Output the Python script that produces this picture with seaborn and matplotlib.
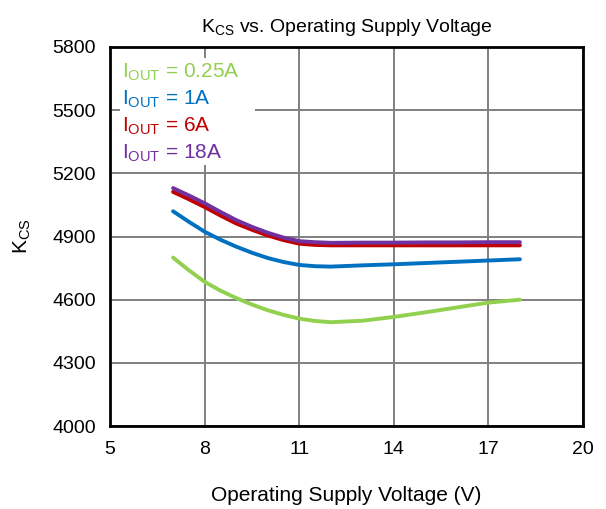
import matplotlib
matplotlib.use("Agg")
import matplotlib.pyplot as plt
import seaborn as sns
import pandas as pd

# values
voltage = [7, 7.5, 8, 8.5, 9, 9.5, 10, 10.5, 11, 11.5, 12, 13, 14, 15, 16, 17, 18]
kcs_025 = [4800, 4740, 4685, 4643, 4608, 4577, 4550, 4528, 4510, 4499, 4493,
           4500, 4518, 4540, 4563, 4586, 4600]
kcs_1 = [5020, 4970, 4923, 4885, 4852, 4823, 4798, 4779, 4765, 4759, 4757,
         4763, 4768, 4774, 4780, 4786, 4792]
kcs_6 = [5112, 5077, 5040, 5000, 4962, 4932, 4905, 4883, 4866, 4860, 4858,
         4858, 4858, 4858, 4858, 4858, 4858]
kcs_18 = [5130, 5095, 5058, 5017, 4978, 4946, 4918, 4895, 4878, 4873, 4870,
          4871, 4871, 4872, 4872, 4873, 4873]

labels = [r"I$_{\mathrm{OUT}}$ = 0.25A", r"I$_{\mathrm{OUT}}$ = 1A",
          r"I$_{\mathrm{OUT}}$ = 6A", r"I$_{\mathrm{OUT}}$ = 18A"]
colors = ["#92D050", "#0070C0", "#C00000", "#7030A0"]

frames = []
for lab, vals in zip(labels, [kcs_025, kcs_1, kcs_6, kcs_18]):
    frames.append(pd.DataFrame({"V": voltage, "K": vals, "series": lab}))
df = pd.concat(frames, ignore_index=True)

sns.set_theme(style="white")
plt.rcParams["font.family"] = ["Liberation Sans", "DejaVu Sans"]
plt.rcParams["mathtext.fontset"] = "custom"
plt.rcParams["mathtext.rm"] = "Liberation Sans"
plt.rcParams["mathtext.it"] = "Liberation Sans:italic"
for key in ["text.color", "axes.labelcolor", "xtick.color", "ytick.color"]:
    plt.rcParams[key] = "black"

fig = plt.figure(figsize=(6.06, 5.09), dpi=100)
ax = fig.add_axes([0.1815, 0.163, 0.7805, 0.7447])

sns.lineplot(data=df, x="V", y="K", hue="series", palette=colors,
             linewidth=2.8, ax=ax, legend=False)

ax.set_xlim(5, 20)
ax.set_ylim(4000, 5800)
ax.set_xticks([5, 8, 11, 14, 17, 20])
ax.set_yticks(range(4000, 5801, 300))
ax.grid(True, color="#808080", linewidth=1.4)
ax.set_axisbelow(True)
for s in ax.spines.values():
    s.set_color("black")
    s.set_linewidth(2)
ax.tick_params(labelsize=14, length=0)
ax.tick_params(axis="x", pad=11)
ax.tick_params(axis="y", pad=10)

ax.set_xlabel("Operating Supply Voltage (V)", fontsize=15, labelpad=20)
ax.set_ylabel(r"K$_{\mathrm{CS}}$", fontsize=15, labelpad=14)
ax.set_title(r"K$_{\mathrm{CS}}$ vs. Operating Supply Voltage", fontsize=14, pad=11)

# legend: coloured text on a white patch
ax.add_patch(plt.Rectangle((0.021, 0.689), 0.286, 0.282, transform=ax.transAxes,
                           facecolor="white", edgecolor="none", zorder=3))
ys = [0.918, 0.847, 0.776, 0.704]
for lab, c, y in zip(labels, colors, ys):
    ax.text(0.026, y, lab, color=c, fontsize=15, transform=ax.transAxes,
            va="baseline", ha="left", zorder=4)

fig.savefig("out.png", dpi=100)
